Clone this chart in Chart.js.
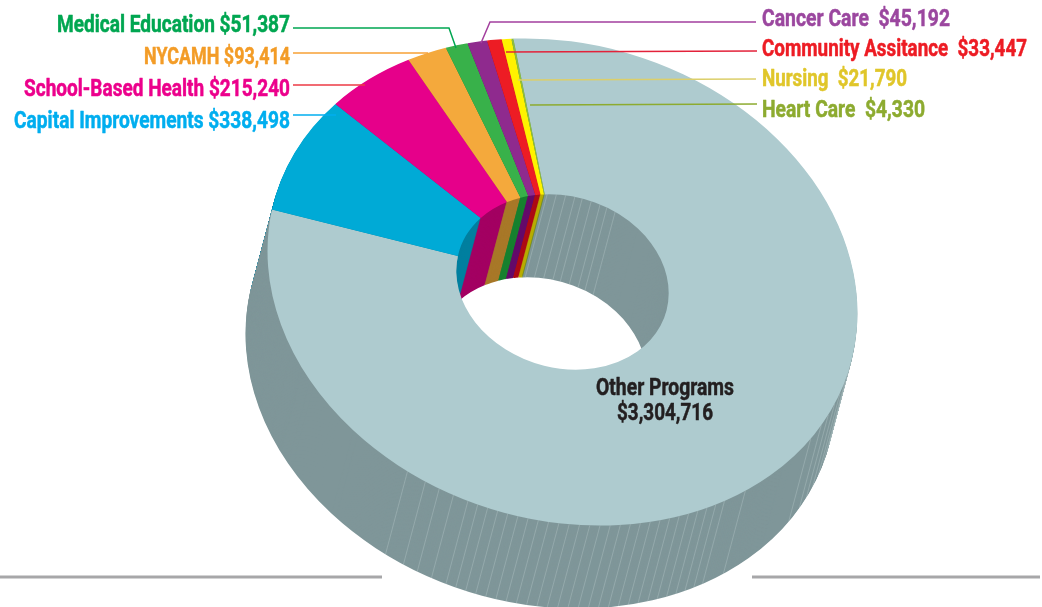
<!DOCTYPE html>
<html>
<head>
<meta charset="utf-8">
<style>html,body{margin:0;padding:0;background:#fff}canvas{display:block}</style>
<script src="https://cdn.jsdelivr.net/npm/chart.js@4/dist/chart.umd.min.js"></script>
</head>
<body>
<canvas id="c" width="1042" height="607"></canvas>
<script>
const categories = ["Other Programs","Capital Improvements","School-Based Health","NYCAMH","Medical Education","Cancer Care","Community Assitance","Nursing","Heart Care"];
const values = [3304716,338498,215240,93414,51387,45192,33447,21790,4330];
const sliceColors = ["#aecbcf","#00aad6","#e6008a","#f4a93c","#38b14a","#8f2a8e","#ed1c24","#fff200","#8cbf3f"];
const wallColors = ["#7f9699","#007f9f","#a30062","#a87828","#17802f","#640a6a","#ad0a14","#b8ac00","#6a8a20"];
const textColors = ["#231f20","#00aeef","#ec008c","#f39c27","#00a651","#9b479f","#ed1c24","#e0c62a","#8dab30"];
const lineColors = ["#231f20","#00aeef","#ed3a44","#f7a134","#00a651","#a33f9e","#e3223a","#dccf6a","#8dab30"];

const money = v => "$" + v.toLocaleString("en-US");
const G = {cx:562.5, cy:282, a:294.5, b:17, d:243, ox:-22, oy:83};
// [category index, anchor, x, baseline, width]
const placement = [
  [4,"right",290,32,233],[3,"right",290,64,146],[2,"right",290,96,266],[1,"right",290,128,276],
  [5,"left",762,26,188],[6,"left",762,56,265],[7,"left",762,86,145],[8,"left",762,117,163]
];
const leaders = [
  [4,[[293,28],[449,28],[456,48]]],[3,[[293,53],[428,53]]],[2,[[293,85],[365,85]]],[1,[[293,115],[336,115]]],
  [5,[[756,22],[490,22],[481,43]]],[6,[[757,51],[506,52]]],[7,[[756,79],[518,80]]],[8,[[757,104],[530,105]]]
];
const outerHatch = [105,107,110,113,116,119,122,126,145,150,152,154,156,158,160,162,164,166,168,170,172,174,176,178,180,182,184,186,188,190,192,194,196,198,200,202,205,208,211,215];
const innerHatch = [-5,0,5,10,14,19,24,28,33];

function applyT(ctx, arc, dx, dy){
  const R = arc.outerRadius;
  ctx.transform(G.a/R, G.b/R, G.b/R, G.d/R, G.cx+dx, G.cy+dy);
  ctx.translate(-arc.x, -arc.y);
}
const pt = (deg,r) => {
  const t = deg*Math.PI/180, u = Math.sin(t)*r, v = -Math.cos(t)*r;
  return [G.cx + G.a*u + G.b*v, G.cy + G.b*u + G.d*v];
};
const solid = {
  id:"solid",
  beforeDatasetsDraw(chart){
    const ctx = chart.ctx, arcs = chart.getDatasetMeta(0).data, cut = arcs[0].innerRadius/arcs[0].outerRadius;
    ctx.save();
    ctx.strokeStyle="#a7a7a9"; ctx.lineWidth=3;
    ctx.beginPath(); ctx.moveTo(0,577); ctx.lineTo(382,577); ctx.moveTo(752,577); ctx.lineTo(1040,577); ctx.stroke();
    for(let k=G.oy;k>=1;k--){
      ctx.save();
      applyT(ctx, arcs[0], G.ox*k/G.oy, k);
      arcs.forEach((arc,i)=>{
        const o=arc.options.backgroundColor;
        arc.options.backgroundColor=wallColors[i];
        arc.draw(ctx);
        arc.options.backgroundColor=o;
      });
      ctx.restore();
    }
    ctx.lineWidth=0.7; ctx.strokeStyle="rgba(225,235,236,0.32)";
    ctx.beginPath();
    outerHatch.forEach(d=>{const p=pt(d,1); ctx.moveTo(p[0],p[1]); ctx.lineTo(p[0]+G.ox,p[1]+G.oy);});
    innerHatch.forEach(d=>{const p=pt(d,cut); ctx.moveTo(p[0],p[1]); ctx.lineTo(p[0]+G.ox,p[1]+G.oy);});
    ctx.stroke();
    ctx.restore();
    ctx.save();
    applyT(ctx, arcs[0], 0, 0);
  },
  afterDatasetsDraw(chart){
    const ctx = chart.ctx;
    ctx.restore();
    ctx.save();
    ctx.lineWidth=1.5;
    leaders.forEach(([i,pts])=>{
      ctx.strokeStyle=lineColors[i];
      ctx.beginPath();
      pts.forEach((p,n)=> n?ctx.lineTo(p[0],p[1]):ctx.moveTo(p[0],p[1]));
      ctx.stroke();
    });
    ctx.font="bold 23.5px Roboto,'Liberation Sans',sans-serif";
    ctx.textBaseline="alphabetic";
    ctx.lineWidth=0.5; ctx.lineJoin="round";
    const put=(s,x,y,w,c)=>{ctx.fillStyle=c;ctx.strokeStyle=c;ctx.fillText(s,x,y,w);ctx.strokeText(s,x,y,w);};
    placement.forEach(([i,al,x,y,w])=>{
      ctx.textAlign=al;
      const sep = al==="left" ? "  " : " ";
      put(categories[i]+sep+money(values[i]),x,y,w,textColors[i]);
    });
    ctx.textAlign="center";
    put(categories[0],665,395,138,textColors[0]);
    put(money(values[0]),665,420,96,textColors[0]);
    ctx.restore();
  }
};
new Chart(document.getElementById("c"),{
  type:"doughnut",
  data:{labels:categories,datasets:[{data:values,backgroundColor:sliceColors,borderWidth:0}]},
  options:{
    responsive:false,animation:false,rotation:-6.3,cutout:"36%",
    layout:{padding:0},
    plugins:{legend:{display:false},tooltip:{enabled:false}}
  },
  plugins:[solid]
});
</script>
</body>
</html>
